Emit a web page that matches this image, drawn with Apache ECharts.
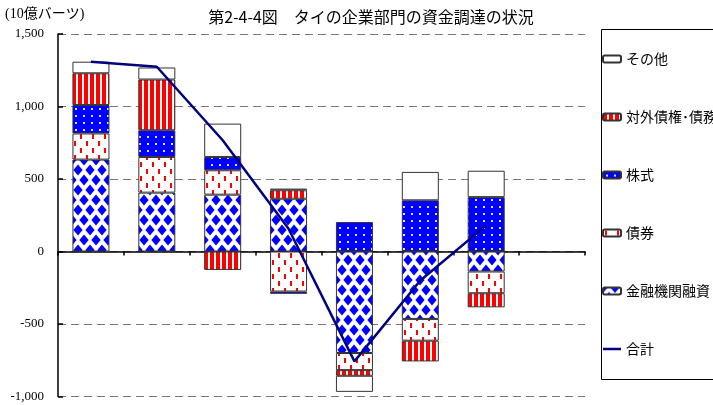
<!DOCTYPE html>
<html>
<head>
<meta charset="utf-8">
<script src="https://cdn.jsdelivr.net/npm/echarts@6/dist/echarts.min.js"></script>
<style>
html, body { margin: 0; padding: 0; background: #fff; }
#chart { width: 713px; height: 405px; }
</style>
</head>
<body>
<div id="chart"></div>
<script>
// 区分（ラベルは非表示、最後は空き）
var categories = ['1', '2', '3', '4', '5', '6', '7', ''];
// 系列（10億バーツ）
var loans = [634, 406, 392, 364, -700, -465, -138];      // 金融機関融資
var bonds = [180, 246, 168, -276, -118, -150, -150];     // 債券
var stocks = [196, 184, 92, -16, 203, 353, 375];          // 株式
var external = [219, 350, -127, 58, -39, -143, -97];      // 対外債権・債務
var others = [80, 83, 230, 12, -111, 196, 182];           // その他
var total = [1308, 1274, 767, 157, -758, -200, 180];      // 合計
var yTicks = [-1000, 1500, 500];  // min, max, interval

// 模様
function makePattern(w, h, draw) {
    var c = document.createElement('canvas');
    c.width = w; c.height = h;
    var ctx = c.getContext('2d');
    draw(ctx, w, h);
    return { image: c, repeat: 'repeat' };
}
var diamondPat = makePattern(12, 20, function (ctx, w, h) {
    ctx.fillStyle = '#fff'; ctx.fillRect(0, 0, w, h);
    ctx.fillStyle = '#0000ff';
    function dia(x, y) {
        ctx.beginPath();
        ctx.moveTo(x, y - 5.5); ctx.lineTo(x + 4.6, y); ctx.lineTo(x, y + 5.5); ctx.lineTo(x - 4.6, y);
        ctx.closePath(); ctx.fill();
    }
    dia(0, 0); dia(12, 0); dia(0, 20); dia(12, 20); dia(6, 10);
});
var dashPat = makePattern(12, 14, function (ctx, w, h) {
    ctx.fillStyle = '#fff'; ctx.fillRect(0, 0, w, h);
    ctx.fillStyle = '#ff0000';
    ctx.fillRect(2, 1, 2, 5);
    ctx.fillRect(8, 8, 2, 5);
});
var dotPat = makePattern(8, 7, function (ctx, w, h) {
    ctx.fillStyle = '#0000ff'; ctx.fillRect(0, 0, w, h);
    ctx.fillStyle = '#dde0ff';
    ctx.fillRect(3, 3, 2, 2);
});
var stripePat = makePattern(6, 6, function (ctx, w, h) {
    ctx.fillStyle = '#fff'; ctx.fillRect(0, 0, w, h);
    ctx.fillStyle = '#ff0000';
    ctx.fillRect(0, 0, 4, h);
});

var myChart = echarts.init(document.getElementById('chart'));

function barSeries(name, data, fill) {
    return {
        name: name,
        type: 'bar',
        stack: 'all',
        barWidth: 37,
        data: data,
        itemStyle: { color: fill, borderColor: '#333', borderWidth: 1 }
    };
}

var option = {
    backgroundColor: '#fff',
    animation: false,
    title: {
        text: '第2-4-4図　タイの企業部門の資金調達の状況',
        left: 366, top: 4, textAlign: 'center',
        textStyle: { fontFamily: 'Noto Sans CJK JP', fontSize: 16, fontWeight: 'normal', color: '#000' }
    },
    graphic: [
        {
            type: 'text', left: 5, top: 7,
            style: { text: '(10億バーツ)', fill: '#000', font: '14px "Liberation Serif", "Noto Sans CJK JP"' }
        },
        {
            type: 'rect', left: 599, top: 27,
            shape: { width: 140, height: 350 },
            style: { fill: 'none', stroke: '#000', lineWidth: 1 }
        }
    ],
    legend: {
        orient: 'vertical',
        left: 602, top: 52,
        padding: 0,
        itemWidth: 18, itemHeight: 7,
        itemGap: 44,
        selectedMode: false,
        textStyle: { fontFamily: 'Noto Sans CJK JP', fontSize: 14, color: '#000', lineHeight: 14 },
        data: ['その他', '対外債権･債務', '株式', '債券', '金融機関融資',
            { name: '合計', icon: 'path://M0,0 L18,0 L18,2.5 L0,2.5 Z' }]
    },
    grid: { left: 58, right: 128, top: 34, bottom: 8.5 },
    xAxis: {
        type: 'category',
        data: categories,
        axisLine: { onZero: true, lineStyle: { color: '#000', width: 1.5 } },
        axisTick: { show: true, length: 4, lineStyle: { color: '#000', width: 1.5 } },
        axisLabel: { show: false }
    },
    yAxis: {
        type: 'value',
        min: yTicks[0], max: yTicks[1], interval: yTicks[2],
        axisLine: { show: true, lineStyle: { color: '#000', width: 1.5 } },
        axisTick: { show: true, inside: true, length: 5, lineStyle: { color: '#000', width: 1.5 } },
        axisLabel: {
            margin: 14, color: '#000', fontFamily: 'Liberation Serif', fontSize: 13,
            formatter: function (v) { return v.toLocaleString('en-US'); }
        },
        splitLine: { show: true, lineStyle: { color: '#777', type: [8, 5], width: 1 } }
    },
    series: [
        barSeries('金融機関融資', loans, diamondPat),
        barSeries('債券', bonds, dashPat),
        barSeries('株式', stocks, dotPat),
        barSeries('対外債権･債務', external, stripePat),
        barSeries('その他', others, '#fff'),
        {
            name: '合計',
            type: 'line',
            data: total,
            symbol: 'none',
            lineStyle: { color: '#000080', width: 2.5 },
            itemStyle: { color: '#000080' },
            z: 5
        }
    ]
};

myChart.setOption(option);
window.addEventListener('resize', function () {
    myChart.resize();
});
</script>
</body>
</html>
